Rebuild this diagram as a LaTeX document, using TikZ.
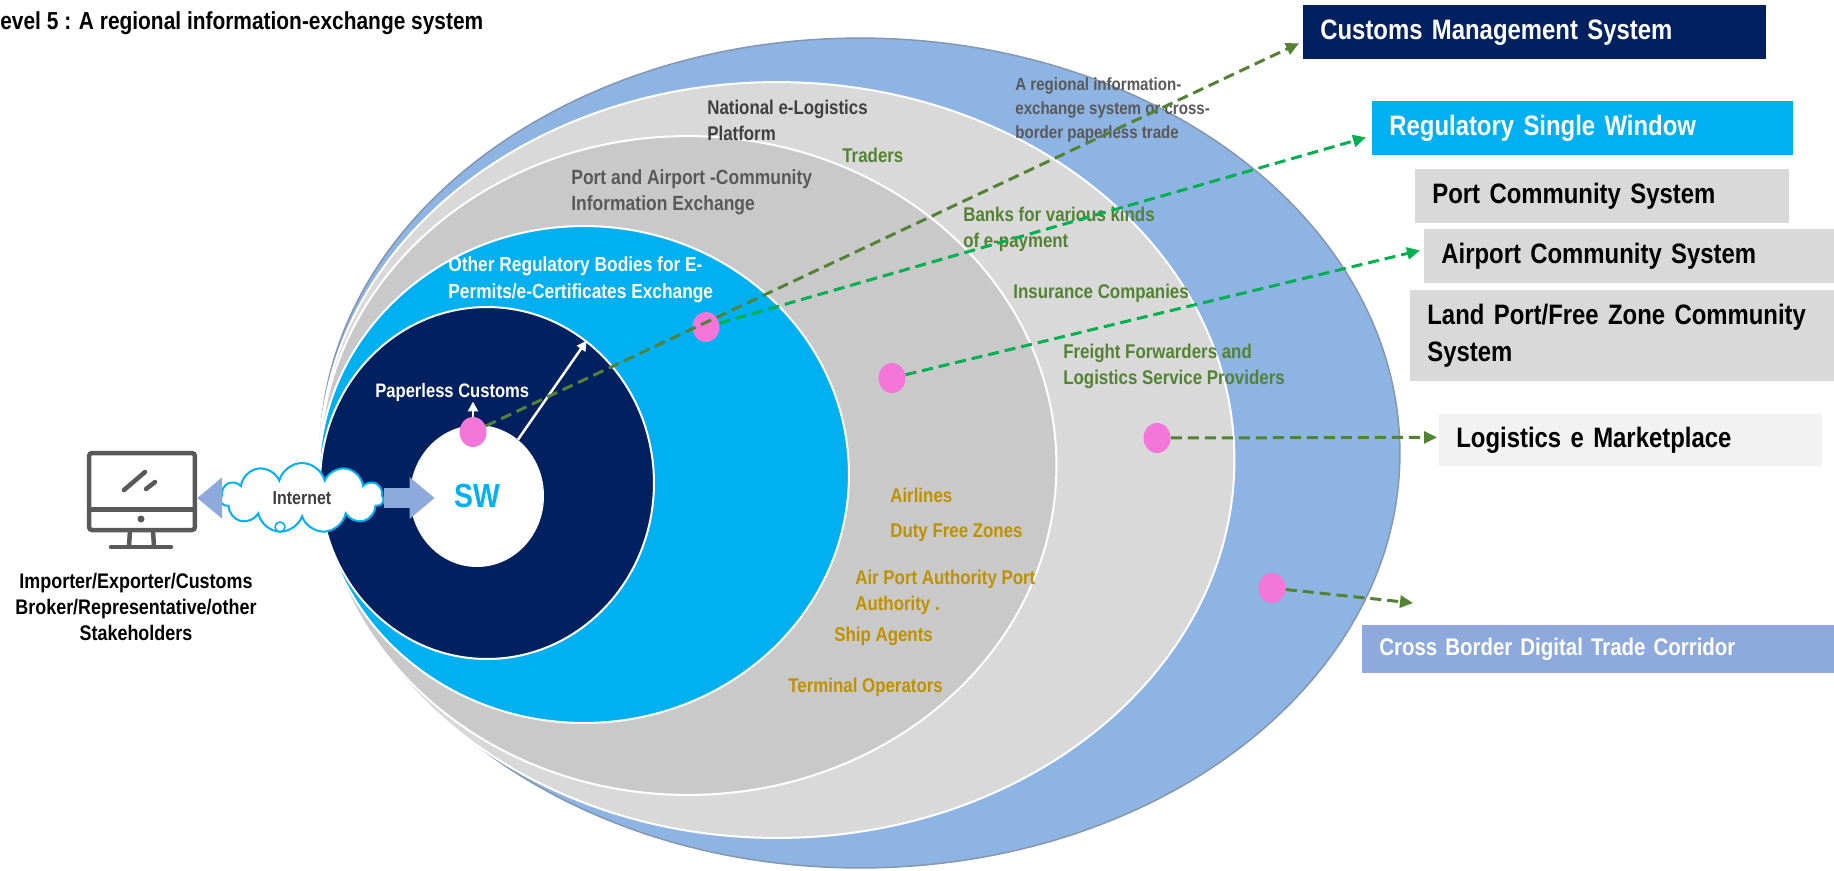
\documentclass[tikz,border=0pt]{standalone}
\usepackage{fontspec}
\setmainfont{Liberation Sans}[FakeStretch=0.85]
\usetikzlibrary{shapes.geometric, shapes.symbols, arrows.meta, positioning, calc}

\definecolor{navyc}{RGB}{0,32,96}
\definecolor{cyanc}{RGB}{0,176,240}
\definecolor{midgray}{RGB}{201,201,201}
\definecolor{lgray}{RGB}{217,217,217}
\definecolor{outerblue}{RGB}{142,180,227}
\definecolor{outerline}{RGB}{132,151,176}
\definecolor{paleblue}{RGB}{142,169,219}
\definecolor{palegray}{RGB}{242,242,242}
\definecolor{olivec}{RGB}{84,130,53}
\definecolor{brightgreen}{RGB}{0,176,80}
\definecolor{goldc}{RGB}{191,144,0}
\definecolor{pinkc}{RGB}{245,118,217}
\definecolor{txtgray}{RGB}{64,64,64}
\definecolor{midtxt}{RGB}{89,89,89}
\definecolor{iconc}{RGB}{89,89,89}

\begin{document}
\begin{tikzpicture}[x=0.02cm, y=-0.02cm,
    region/.style={ellipse, inner sep=0pt, draw=white, line width=0.04cm},
    dot/.style={ellipse, fill=pinkc, inner sep=0pt, minimum width=0.54cm, minimum height=0.6cm},
    sysbox/.style={anchor=north west, inner xsep=0.34cm, inner ysep=0pt, align=left, minimum height=1.08cm, font=\bfseries\fontsize{16}{21}\selectfont},
    lbl/.style={anchor=west, inner sep=0pt, align=left, font=\bfseries\fontsize{11.3}{14.7}\selectfont},
    link/.style={dash pattern=on 0.22cm off 0.12cm, line width=0.06cm, -{Triangle[length=0.26cm, width=0.24cm]}},
    wire/.style={white, line width=0.05cm, -{Triangle[length=0.2cm, width=0.2cm]}},
    fatarrow/.style={paleblue, line width=0.4cm, -{Triangle[length=0.5cm, width=0.8cm]}}]

    \useasboundingbox (0,0) rectangle (1834,870);

    \node[region, fill=outerblue, draw=outerline, line width=0.03cm, minimum width=21.6cm, minimum height=16.6cm] (e5) at (860,453) {};
    \node[region, fill=lgray, minimum width=18.3cm, minimum height=15.12cm] (e4) at (777,460) {};
    \node[region, fill=midgray, minimum width=14.74cm, minimum height=13.18cm] (e3) at (688,465.5) {};
    \node[region, fill=cyanc, minimum width=10.6cm, minimum height=9.94cm] (e2) at (584,474.5) {};
    \node[region, fill=navyc, minimum width=6.68cm, minimum height=7.04cm] (e1) at (487,483) {};
    \node[ellipse, fill=white, inner sep=0pt, minimum width=2.68cm, minimum height=2.84cm, text=cyanc, font=\bfseries\fontsize{19}{22}\selectfont] (sw) at (477,496) {SW};

    \node[lbl, text=black, font=\bfseries\fontsize{14}{17}\selectfont] (ttl) at (0,23) {evel 5 : A regional information-exchange system};

    \node[lbl, text=txtgray] (nat) at (707,120) {National e-Logistics\\Platform};
    \node[lbl, text=midtxt, font=\bfseries\fontsize{11.7}{14.7}\selectfont] (pai) at (571,192) {Port and Airport -Community\\Information Exchange};
    \node[lbl, text=white, font=\bfseries\fontsize{11.6}{15.3}\selectfont] (orb) at (448,280) {Other Regulatory Bodies for E-\\Permits/e-Certificates Exchange};
    \node[lbl, text=white, font=\bfseries\fontsize{11.1}{14}\selectfont] (pcl) at (375,392) {Paperless Customs};
    \node[lbl, text=midtxt, font=\bfseries\fontsize{10.1}{13.6}\selectfont] (reg) at (1015,110) {A regional information-\\exchange system or cross-\\border paperless trade};
    \node[lbl, text=olivec] (trd) at (842,155) {Traders};
    \node[lbl, text=olivec] (bnk) at (963,229) {Banks for various kinds\\of e-payment};
    \node[lbl, text=olivec] (ins) at (1013,293) {Insurance Companies};
    \node[lbl, text=olivec] (ffw) at (1063,366) {Freight Forwarders and\\Logistics Service Providers};
    \node[lbl, text=goldc] (air) at (890,495) {Airlines};
    \node[lbl, text=goldc] (dfz) at (890,533) {Duty Free Zones};
    \node[lbl, text=goldc] (apa) at (855,592) {Air Port Authority Port\\Authority .};
    \node[lbl, text=goldc] (sag) at (834,636) {Ship Agents};
    \node[lbl, text=goldc] (tom) at (788,687) {Terminal Operators};

    \node[draw=iconc, line width=0.09cm, rounded corners=0.06cm, minimum width=2.12cm, minimum height=1.54cm, inner sep=0pt] (pc) at (142,491.5) {};
    \draw[iconc, line width=0.09cm] ($(pc.south west)+(0,-23)$) -- ($(pc.south east)+(0,-23)$);
    \fill[iconc] (141,519) circle[radius=3.5];
    \draw[iconc, line width=0.09cm, line cap=round] (124,490) -- (145,472) (146,489) -- (155,482);
    \draw[iconc, line width=0.09cm] (130,531) -- (129,546) (153,531) -- (154,546);
    \draw[iconc, line width=0.09cm, line cap=round] (111,547) -- (171,547);
    \node[font=\bfseries\fontsize{12}{14.7}\selectfont, align=center, inner sep=0pt] (imp) at (136,607) {Importer/Exporter/Customs\\Broker/Representative/other\\Stakeholders};

    \node[cloud, cloud puffs=11, cloud ignores aspect, draw=cyanc, fill=white, line width=0.04cm, minimum width=3.26cm, minimum height=1.4cm, inner sep=0pt, text=txtgray, font=\bfseries\fontsize{10.7}{12}\selectfont] (cloud) at (302,498) {Internet};
    \draw[cyanc, line width=0.03cm] (280,527) circle[radius=5];
    \draw[fatarrow] (cloud.west) -- (cloud.west -| pc.east);
    \draw[fatarrow] (cloud.east) -- ($(cloud.east -| sw.west)+(25,0)$);

    \node[sysbox, fill=navyc, text=white, text width=8.58cm] (cms) at (1303,5) {Customs Management System};
    \node[sysbox, fill=cyanc, text=white, text width=7.74cm] (rsw) at (1372,101) {Regulatory Single Window};
    \node[sysbox, fill=lgray, text width=6.8cm] (pcs) at (1415,169) {Port Community System};
    \node[sysbox, fill=lgray, text width=7.52cm] (acs) at (1424,229) {Airport Community System};
    \node[sysbox, fill=lgray, text width=7.8cm, minimum height=1.82cm] (lpf) at (1410,290) {Land Port/Free Zone Community\\System};
    \node[sysbox, fill=palegray, text width=6.98cm, minimum height=1.04cm] (lem) at (1439,414) {Logistics e Marketplace};
    \node[sysbox, fill=paleblue, text=white, text width=8.76cm, minimum height=0.96cm, font=\bfseries\fontsize{13.7}{16}\selectfont] (cbd) at (1362,625) {Cross Border Digital Trade Corridor};

    \node[dot] (p1) at (473,432) {};
    \node[dot] (p2) at (706,327) {};
    \node[dot] (p3) at (892,378) {};
    \node[dot] (p4) at (1157,438) {};
    \node[dot] (p5) at (1272,588) {};
    \coordinate (cbtip) at (1413,603);

    \draw[wire] (p1.north) -- (p1.north |- pcl.south);
    \draw[wire] (sw.54) -- (e1.55);

    \draw[link, olivec] (p1) -- ($(cms.west)+(-4,11)$);
    \draw[link, brightgreen] (p2) -- ($(rsw.west)+(-6,9)$);
    \draw[link, brightgreen] (p3) -- ($(acs.west)+(-4,-6)$);
    \draw[link, olivec] (p4) -- ($(lem.west)+(-2,-3)$);
    \draw[link, olivec] (p5) -- (cbtip);
\end{tikzpicture}
\end{document}
